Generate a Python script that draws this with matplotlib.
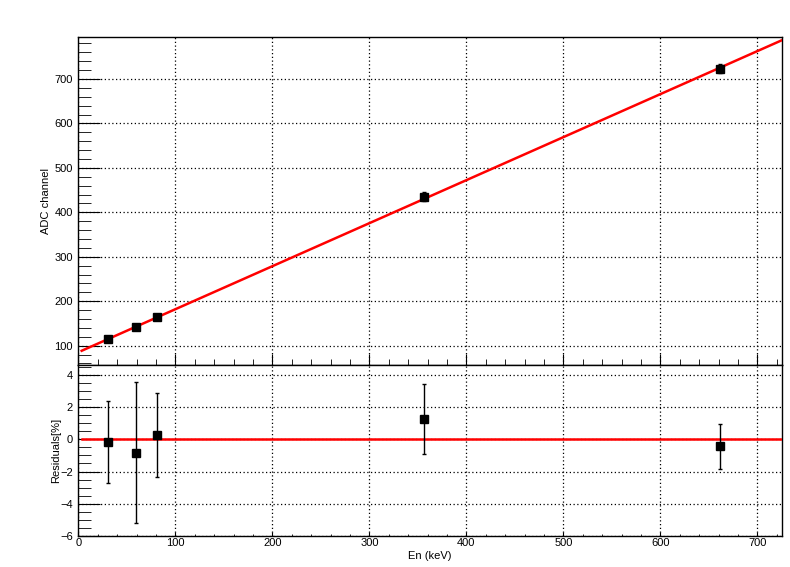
import numpy as np
import matplotlib
matplotlib.use("Agg")
import matplotlib.pyplot as plt
from matplotlib.ticker import MultipleLocator

plt.rcParams['font.family'] = ['Liberation Sans', 'DejaVu Sans']

# calibration points
energy = [31.0, 59.5, 81.0, 356.0, 661.7]          # keV
adc = [116.0, 141.0, 163.9, 435.3, 722.6]          # ADC channel
adc_err = [2.9, 6.3, 4.3, 9.4, 10.0]
resid = [-0.15, -0.83, 0.27, 1.28, -0.44]          # %
resid_err = [2.55, 4.38, 2.6, 2.18, 1.38]

# linear fit  ADC = p0 + p1 * E
p0, p1 = 85.2, 0.968
fit_range = (3.5, 725.0)

xlim = (0, 725)
ylim_top = (56.6, 794.5)
ylim_bot = (-6, 4.64)

fig = plt.figure(figsize=(7.9, 5.67), dpi=100)
ax1 = fig.add_axes([0.0991, 0.3563, 0.8904, 0.5785])
ax2 = fig.add_axes([0.0991, 0.0552, 0.8904, 0.3011])

grid_kw = dict(color='black', linestyle=(0, (1, 2)), linewidth=0.9)

# top panel
xf = np.linspace(fit_range[0], fit_range[1], 200)
ax1.plot(xf, p0 + p1 * xf, color='#ff0000', lw=1.8, zorder=3)
ax1.errorbar(energy, adc, yerr=adc_err, fmt='s', color='black', ms=5.4,
             ecolor='black', elinewidth=1.0, capsize=1.6, zorder=4)
ax1.set_xlim(*xlim)
ax1.set_ylim(*ylim_top)
ax1.xaxis.set_major_locator(MultipleLocator(100))
ax1.xaxis.set_minor_locator(MultipleLocator(20))
ax1.yaxis.set_major_locator(MultipleLocator(100))
ax1.yaxis.set_minor_locator(MultipleLocator(20))
ax1.grid(True, which='major', **grid_kw)
ax1.tick_params(axis='x', which='both', direction='in', labelbottom=False,
                top=False)
ax1.tick_params(axis='x', which='major', length=8)
ax1.tick_params(axis='x', which='minor', length=4.5)
ax1.tick_params(axis='y', which='both', direction='in', right=False,
                labelsize=8, pad=4)
ax1.tick_params(axis='y', which='major', length=16)
ax1.tick_params(axis='y', which='minor', length=9)
ax1.set_ylabel('ADC channel', fontsize=8)
ax1.yaxis.set_label_coords(-0.039, 0.5)

# residual panel
ax2.plot(fit_range, [0, 0], color='#ff0000', lw=1.8, zorder=3)
ax2.errorbar(energy, resid, yerr=resid_err, fmt='s', color='black', ms=5.4,
             ecolor='black', elinewidth=1.0, capsize=1.6, zorder=4)
ax2.set_xlim(*xlim)
ax2.set_ylim(*ylim_bot)
ax2.xaxis.set_major_locator(MultipleLocator(100))
ax2.xaxis.set_minor_locator(MultipleLocator(20))
ax2.yaxis.set_major_locator(MultipleLocator(2))
ax2.yaxis.set_minor_locator(MultipleLocator(0.5))
ax2.grid(True, which='major', **grid_kw)
ax2.tick_params(axis='x', which='both', direction='in', top=False,
                labelsize=8, pad=2)
ax2.tick_params(axis='x', which='major', length=3)
ax2.tick_params(axis='x', which='minor', length=1.5)
ax2.tick_params(axis='y', which='both', direction='in', right=False,
                labelsize=8, pad=4)
ax2.tick_params(axis='y', which='major', length=16)
ax2.tick_params(axis='y', which='minor', length=9)
ax2.set_ylabel('Residuals[%]', fontsize=8)
ax2.yaxis.set_label_coords(-0.025, 0.5)
ax2.set_xlabel('En (keV)', fontsize=8, labelpad=2)

for ax in (ax1, ax2):
    for s in ax.spines.values():
        s.set_linewidth(1.0)

fig.savefig('out.png', dpi=100)
